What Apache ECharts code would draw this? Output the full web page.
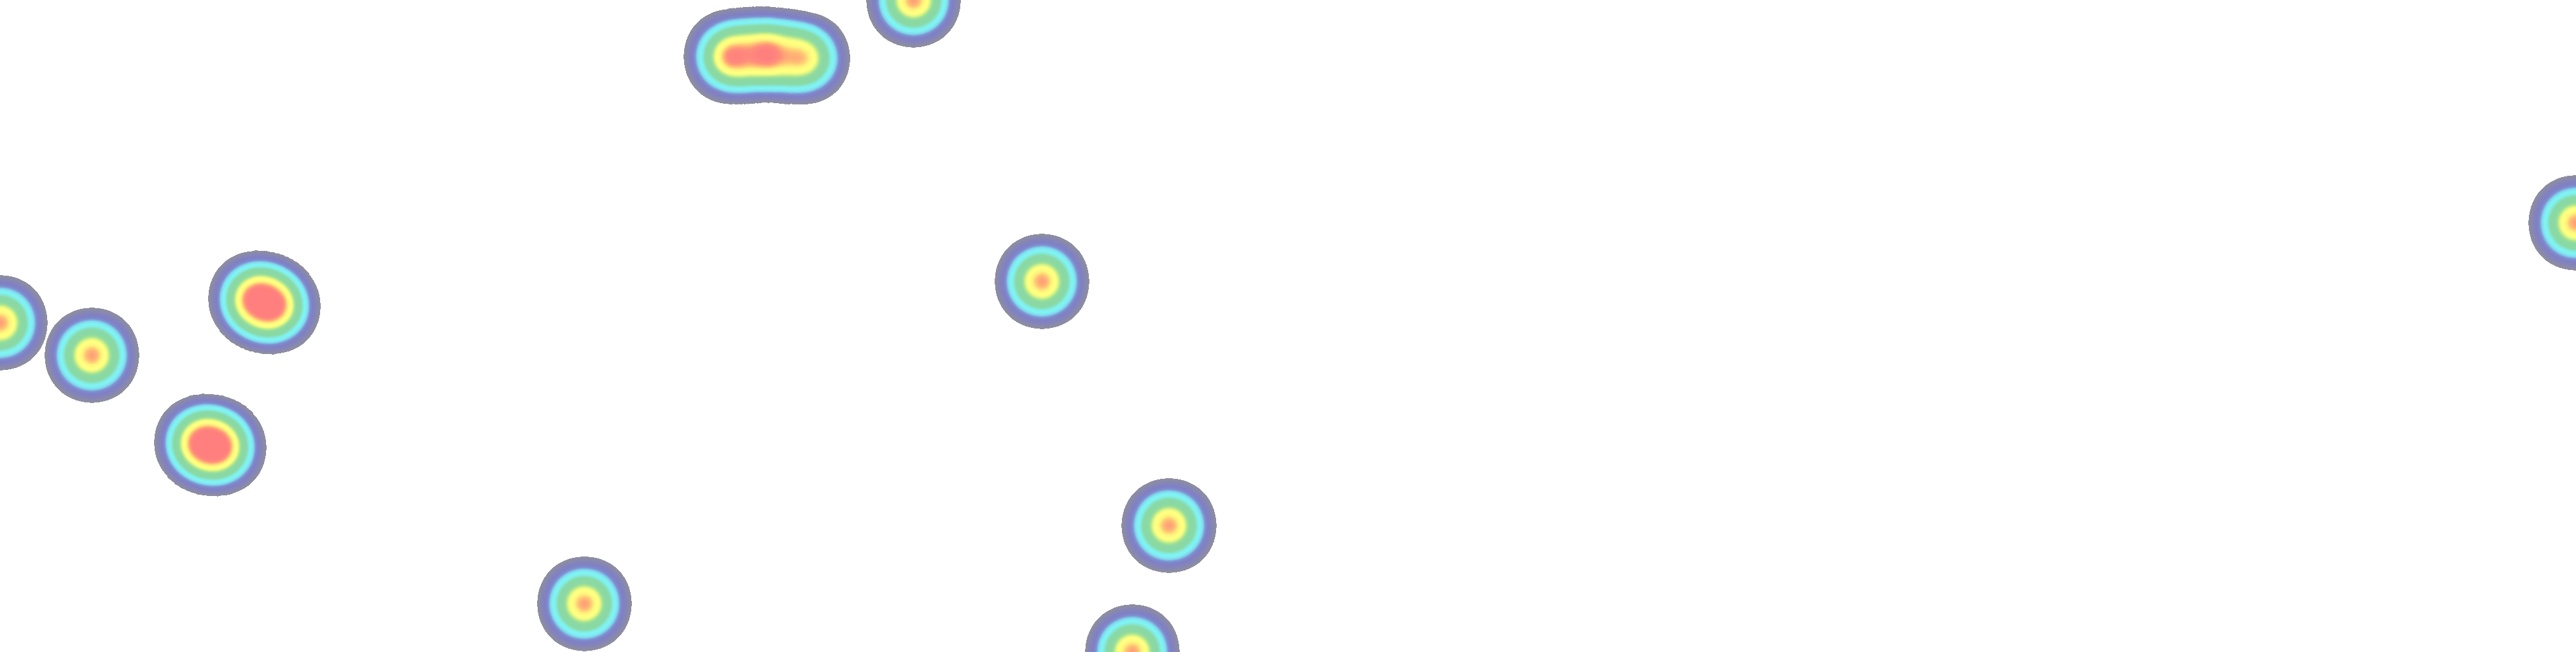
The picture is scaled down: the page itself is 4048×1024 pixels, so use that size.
<!DOCTYPE html>
<html>
<head>
<meta charset="utf-8">
<style>
html,body{margin:0;padding:0;background:#fff;}
#chart{width:4048px;height:1024px;}
</style>
<script src="https://cdn.jsdelivr.net/npm/echarts@6/dist/echarts.min.js"></script>
</head>
<body>
<div id="chart"></div>
<script>
// Point positions (x: 0-100 left→right, y: 0-100 bottom→top), intensities and drawing layer
const pointX = [28.38, 29.77, 31.20, 35.47, 0.00, 3.56, 9.91, 10.62, 7.81, 8.50, 40.44, 45.38, 22.68, 43.95, 100.00];
const pointY = [91.31, 91.70, 91.11, 100.00, 50.49, 45.51, 54.20, 53.03, 32.13, 31.35, 56.84, 19.43, 7.42, 0.00, 65.82];
const pointValue = [10, 10, 9, 10, 10, 10, 10, 10, 10, 10, 10, 10, 10, 10, 10];
const pointLayer = [0, 0, 0, 0, 0, 1, 0, 0, 0, 0, 0, 0, 0, 0, 0];

const rampColors = [
  '#8f8f9d', '#8f8f9d', '#8585b8', '#7f7fc6', '#7f8fd0', '#80d8ee', '#80f2f2', '#80f2f2',
  '#84e6cc', '#8ad8a4', '#8ad8a4', '#8ad8a4', '#8edaa0', '#a8e490', '#d8f488', '#ffff80',
  '#ffff80', '#fff07c', '#ffc074', '#ff8f7a', '#ff7f7f', '#ff7f7f', '#ff7f7f', '#ff7f7f',
  '#ff7f7f', '#ff7f7f'
];

const layers = [0, 1].map(l =>
  pointX.map((x, i) => [x, pointY[i], pointValue[i], pointLayer[i]]).filter(d => d[3] === l).map(d => d.slice(0, 3))
);

echarts.registerMap('blank', {
  type: 'FeatureCollection',
  features: [{
    type: 'Feature', properties: { name: 'area' },
    geometry: { type: 'Polygon', coordinates: [[[0, 0], [100, 0], [100, 100], [0, 100], [0, 0]]] }
  }]
});

const chart = echarts.init(document.getElementById('chart'), null, { renderer: 'canvas' });
chart.setOption({
  backgroundColor: '#fff',
  animation: false,
  geo: {
    map: 'blank',
    left: 0, right: 0, top: 0, bottom: 0,
    boundingCoords: [[0, 100], [100, 0]],
    silent: true,
    label: { show: false },
    itemStyle: { areaColor: 'rgba(0,0,0,0)', borderColor: 'rgba(0,0,0,0)', borderWidth: 0 },
    emphasis: { disabled: true }
  },
  visualMap: {
    show: false,
    type: 'continuous',
    min: 0,
    max: 10,
    range: [0.43, 10],
    seriesIndex: [0, 1],
    inRange: { color: rampColors },
    outOfRange: { color: 'rgba(0,0,0,0)' }
  },
  series: layers.map(d => ({
    type: 'heatmap',
    coordinateSystem: 'geo',
    data: d,
    pointSize: 40,
    blurSize: 50,
    minOpacity: 1,
    maxOpacity: 1
  }))
});
</script>
</body>
</html>
